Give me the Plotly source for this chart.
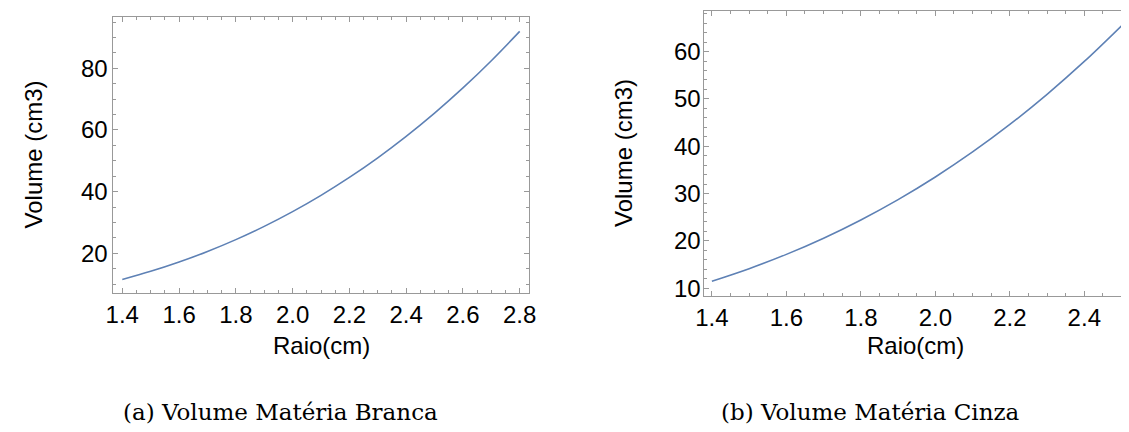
import plotly.graph_objects as go

# Data
raio_branca = [1.4, 1.5, 1.6, 1.7, 1.8, 1.9, 2.0, 2.1, 2.2, 2.3, 2.4, 2.5, 2.6, 2.7, 2.8]
vol_branca = [11.49, 14.14, 17.16, 20.58, 24.43, 28.73, 33.51, 38.79, 44.60, 50.97, 57.91, 65.45, 73.62, 82.45, 91.95]

raio_cinza = [1.4, 1.5, 1.6, 1.7, 1.8, 1.9, 2.0, 2.1, 2.2, 2.3, 2.4, 2.5]
vol_cinza = [11.49, 14.14, 17.16, 20.58, 24.43, 28.73, 33.51, 38.79, 44.60, 50.97, 57.91, 65.45]

x_ticks = [1.4, 1.6, 1.8, 2.0, 2.2, 2.4, 2.6, 2.8]
x_ticklabels = ["1.4", "1.6", "1.8", "2.0", "2.2", "2.4", "2.6", "2.8"]
y1_ticks = [20, 40, 60, 80]
y2_ticks = [10, 20, 30, 40, 50, 60]

x_title = "Raio(cm)"
y_title = "Volume (cm3)"
caption_a = "(a) Volume Matéria Branca"
caption_b = "(b) Volume Matéria Cinza"

W, H = 1129, 432
LINE = "#5E81B5"
FRAME = "#999999"
TICKFONT = dict(family="Liberation Sans, Arial, sans-serif", size=24, color="black")

fig = go.Figure()
fig.add_trace(go.Scatter(x=raio_branca, y=vol_branca, mode="lines",
                         line=dict(color=LINE, width=1.6, shape="spline"),
                         xaxis="x", yaxis="y", showlegend=False, hoverinfo="skip"))
fig.add_trace(go.Scatter(x=raio_cinza, y=vol_cinza, mode="lines",
                         line=dict(color=LINE, width=1.6, shape="spline"),
                         xaxis="x2", yaxis="y2", showlegend=False, hoverinfo="skip"))

def xaxis(domain, rng, anchor):
    return dict(domain=domain, range=rng, anchor=anchor, showgrid=False, zeroline=False,
                showline=True, linecolor=FRAME, linewidth=1, mirror="ticks",
                ticks="inside", ticklen=5, tickcolor=FRAME, tickwidth=1,
                tickvals=x_ticks, ticktext=x_ticklabels, tickfont=TICKFONT,
                ticklabelstandoff=0,
                minor=dict(dtick=0.05, tick0=1.4, ticks="inside", ticklen=3,
                           tickcolor=FRAME, tickwidth=1, showgrid=False))

def yaxis(domain, rng, anchor, ticks, minor_dtick, mirror, standoff):
    return dict(domain=domain, range=rng, anchor=anchor, showgrid=False, zeroline=False,
                showline=True, linecolor=FRAME, linewidth=1, mirror=mirror,
                ticks="inside", ticklen=5, tickcolor=FRAME, tickwidth=1,
                tickvals=ticks, tickfont=TICKFONT, ticklabelstandoff=standoff,
                minor=dict(dtick=minor_dtick, tick0=0, ticks="inside", ticklen=3,
                           tickcolor=FRAME, tickwidth=1, showgrid=False))

fig.update_layout(
    width=W, height=H,
    margin=dict(l=0, r=0, t=0, b=0),
    paper_bgcolor="white", plot_bgcolor="white",
    xaxis=xaxis([107 / W, 528 / W], [1.369, 2.831], "y"),
    yaxis=yaxis([(H - 297.5) / H, (H - 17) / H], [7.0, 96.7], "x", y1_ticks, 5, "ticks", 0),
    xaxis2=xaxis([705.5 / W, 1.0], [1.3775, 2.4985], "y2"),
    yaxis2=yaxis([(H - 300) / H, (H - 11) / H], [8.4, 68.6], "x2", y2_ticks, 2, False, -3),
)

ann_font = dict(family="Liberation Sans, Arial, sans-serif", size=24, color="black")
cap_font = dict(family="DejaVu Serif, serif", size=23, color="black")

def ann(text, x, y, font, angle=0):
    fig.add_annotation(text=text, x=x / W, y=1 - y / H, xref="paper", yref="paper",
                       xanchor="center", yanchor="middle", showarrow=False,
                       font=font, textangle=angle)

ann(y_title, 26, 157, ann_font, -90)
ann(y_title, 625, 155, ann_font, -90)
ann(x_title, 318, 350, ann_font)
ann(x_title, 921, 350, ann_font)
ann(caption_a, 276, 418, cap_font)
ann(caption_b, 875, 418, cap_font)

fig.write_html("out.html")
